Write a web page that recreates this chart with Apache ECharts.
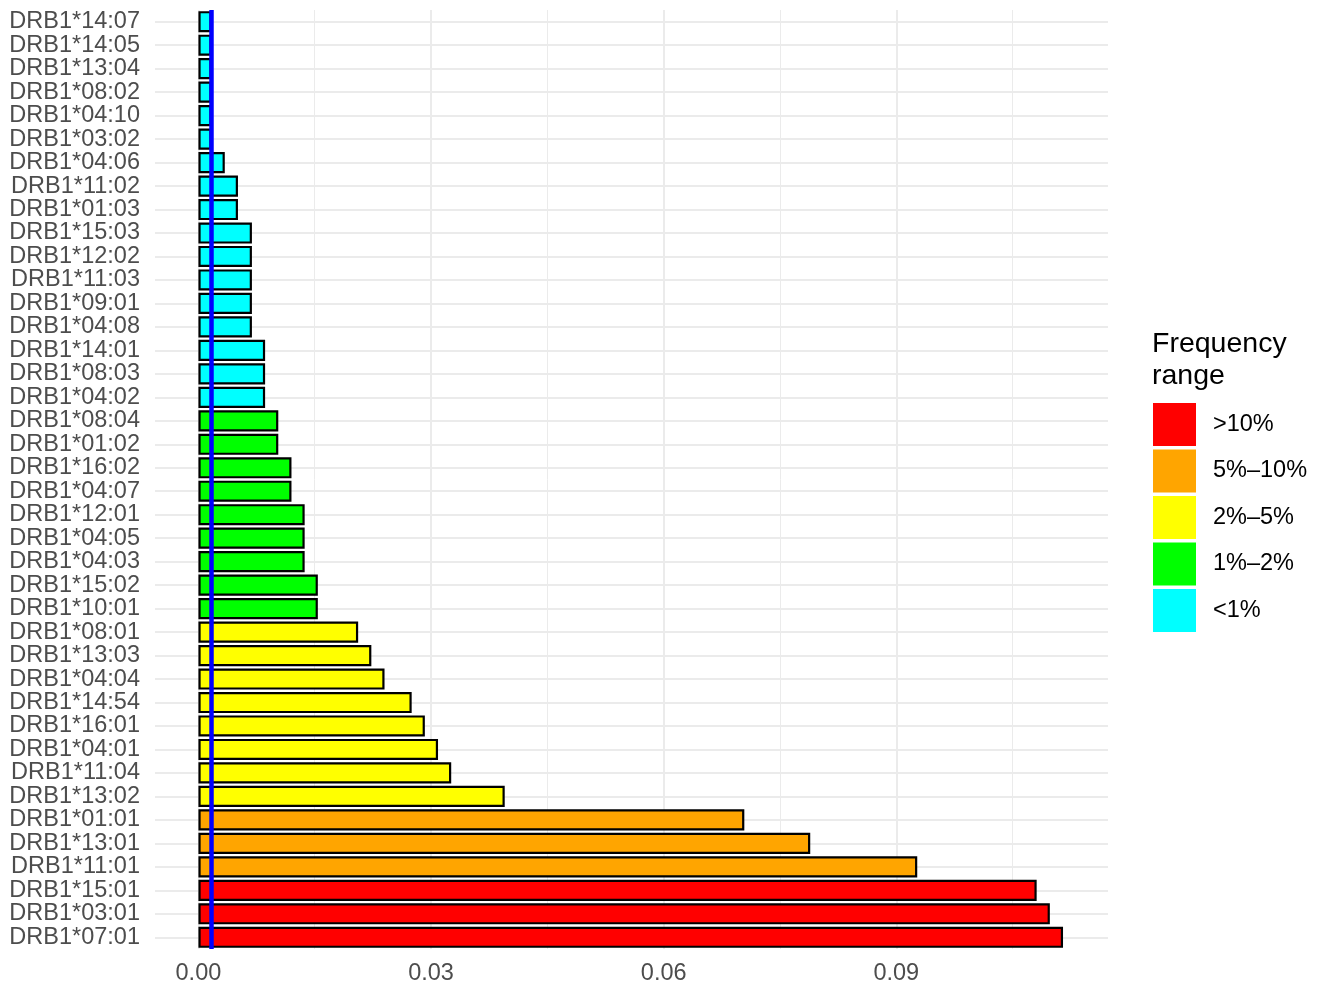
<!DOCTYPE html>
<html>
<head>
<meta charset="utf-8">
<script src="https://cdn.jsdelivr.net/npm/echarts@6/dist/echarts.min.js"></script>
<style>
  html, body { margin: 0; padding: 0; background: #fff; }
  #main { width: 1321px; height: 986px; }
</style>
</head>
<body>
<div id="main"></div>
<script>
// alleles, top to bottom as in the picture
var alleles = ['DRB1*14:07', 'DRB1*14:05', 'DRB1*13:04', 'DRB1*08:02', 'DRB1*04:10', 'DRB1*03:02',
  'DRB1*04:06', 'DRB1*11:02', 'DRB1*01:03', 'DRB1*15:03', 'DRB1*12:02', 'DRB1*11:03', 'DRB1*09:01',
  'DRB1*04:08', 'DRB1*14:01', 'DRB1*08:03', 'DRB1*04:02', 'DRB1*08:04', 'DRB1*01:02', 'DRB1*16:02',
  'DRB1*04:07', 'DRB1*12:01', 'DRB1*04:05', 'DRB1*04:03', 'DRB1*15:02', 'DRB1*10:01', 'DRB1*08:01',
  'DRB1*13:03', 'DRB1*04:04', 'DRB1*14:54', 'DRB1*16:01', 'DRB1*04:01', 'DRB1*11:04', 'DRB1*13:02',
  'DRB1*01:01', 'DRB1*13:01', 'DRB1*11:01', 'DRB1*15:01', 'DRB1*03:01', 'DRB1*07:01'];
var freq = [0.0017, 0.0017, 0.0017, 0.0017, 0.0017, 0.0017,
  0.0034, 0.0051, 0.0051, 0.0069, 0.0069, 0.0069, 0.0069,
  0.0069, 0.0086, 0.0086, 0.0086, 0.0103, 0.0103, 0.0120,
  0.0120, 0.0137, 0.0137, 0.0137, 0.0154, 0.0154, 0.0206,
  0.0223, 0.0240, 0.0275, 0.0292, 0.0309, 0.0326, 0.0395,
  0.0704, 0.0789, 0.0927, 0.1081, 0.1098, 0.1115];

// frequency ranges (legend order) with lower / upper bounds
var rangeNames = ['>10%', '5%\u201310%', '2%\u20135%', '1%\u20132%', '<1%'];
var rangeLow = [0.10, 0.05, 0.02, 0.01, 0];
var rangeHigh = [1, 0.10, 0.05, 0.02, 0.01];
var rangeColors = ['#ff0000', '#ffa500', '#ffff00', '#00ff00', '#00ffff'];

var xTicks = [0, 0.03, 0.06, 0.09];
var xGrid = [0, 0.015, 0.03, 0.045, 0.06, 0.075, 0.09, 0.105];
var refLine = 0.0017;

var font = '"Liberation Sans", Arial, Helvetica, sans-serif';
var myChart = echarts.init(document.getElementById('main'));

var series = rangeNames.map(function (name, i) {
  return {
    name: name,
    type: 'bar',
    stack: 'f',
    barWidth: '90%',
    itemStyle: { color: rangeColors[i], borderColor: '#000', borderWidth: 2.2 },
    data: freq.map(function (v) {
      return (v >= rangeLow[i] && v < rangeHigh[i]) ? v : '-';
    })
  };
});

// vertical grid lines (under the bars)
series[0].markLine = {
  silent: true,
  symbol: 'none',
  precision: 5,
  z: 1,
  label: { show: false },
  data: xGrid.map(function (v) {
    var major = xTicks.indexOf(v) >= 0;
    return { xAxis: v, lineStyle: { color: '#ebebeb', width: major ? 2 : 1, type: 'solid' } };
  })
};
// blue reference line
series[4].markLine = {
  silent: true,
  symbol: 'none',
  precision: 5,
  label: { show: false },
  lineStyle: { color: '#0000ff', width: 4.5, type: 'solid' },
  data: [{ xAxis: refLine }]
};

myChart.setOption({
  animation: false,
  textStyle: { fontFamily: font },
  title: {
    text: 'Frequency\nrange',
    left: 1152,
    top: 328,
    padding: 0,
    textStyle: { fontFamily: font, fontSize: 28.5, fontWeight: 'normal', color: '#000', lineHeight: 32 }
  },
  legend: {
    data: rangeNames,
    orient: 'vertical',
    left: 1153,
    top: 403,
    padding: 0,
    icon: 'rect',
    itemWidth: 43,
    itemHeight: 43,
    itemGap: 3.5,
    itemStyle: { borderWidth: 0 },
    selectedMode: false,
    textStyle: { fontFamily: font, fontSize: 23.5, color: '#000', padding: [5, 0, 0, 12] }
  },
  grid: { left: 155, top: 10, width: 953, height: 940, containLabel: false },
  xAxis: {
    type: 'value',
    min: -0.0056,
    max: 0.1173,
    axisLine: { show: false },
    axisTick: { show: false },
    splitLine: { show: false },
    axisLabel: {
      customValues: xTicks,
      formatter: function (v) { return v.toFixed(2); },
      fontSize: 23.5,
      color: '#4d4d4d',
      margin: 13,
      fontFamily: font
    }
  },
  yAxis: {
    type: 'category',
    inverse: true,
    data: alleles,
    axisLine: { show: false },
    axisTick: { show: false },
    axisLabel: { interval: 0, fontSize: 23.5, color: '#4d4d4d', margin: 15, padding: [3, 0, 0, 0], fontFamily: font },
    splitLine: {
      show: true,
      interval: 0,
      alignWithLabel: true,
      lineStyle: { color: '#ebebeb', width: 2 }
    }
  },
  series: series
});
</script>
</body>
</html>
